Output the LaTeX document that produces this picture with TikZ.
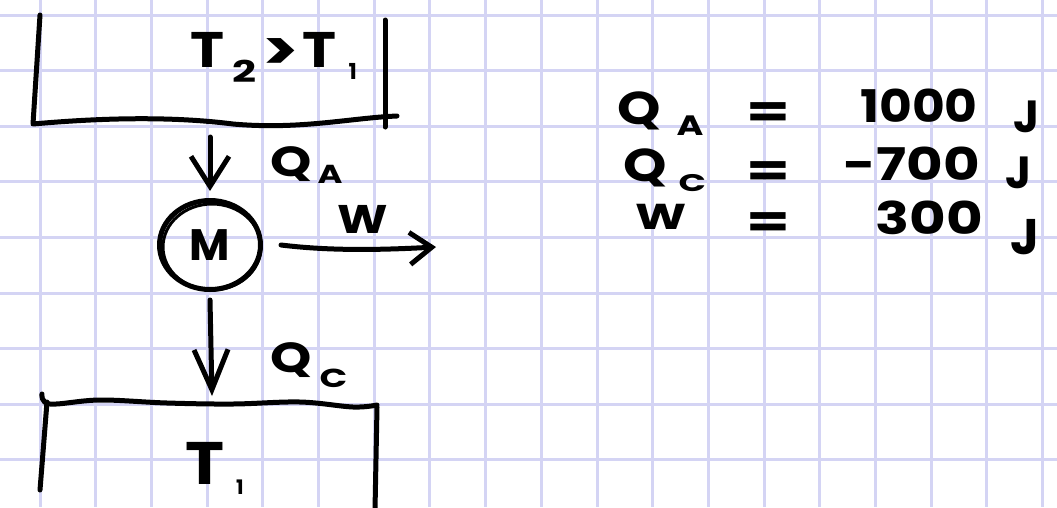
\documentclass[tikz,border=0pt]{standalone}
\usepackage{fontspec}
\setmainfont{Poppins}
\usetikzlibrary{arrows.meta,shapes.geometric}
\definecolor{gridc}{RGB}{212,212,244}
\newcommand\fsz[1]{\fontsize{#1}{#1}\selectfont}
\newcommand\xw[2]{\scalebox{#1}[1]{#2}}
\tikzset{
  ink/.style={draw=black, line width=5pt, line cap=round, line join=round},
  hw/.style={inner sep=0pt, anchor=base west},
  hwe/.style={inner sep=0pt, anchor=base east},
  eqs/.style={inner sep=0pt, font=\bfseries\fsz{45}},
  gridline/.style={draw=gridc, line width=3pt},
}
\begin{document}
\begin{tikzpicture}[x=1pt,y=-1pt]
\fill[white] (0,0) rectangle (1057,507);
\useasboundingbox (0,0) rectangle (1057,507);
% grid paper
\foreach \i in {0,...,18} \draw[gridline] ({40+55.7*\i},0) -- ({40+55.7*\i},507);
\foreach \j in {0,...,8} \draw[gridline] (0,{15+55.6*\j}) -- (1057,{15+55.6*\j});

% hot reservoir
\draw[ink] (40,15) -- (33,124) .. controls (100,118) and (170,116) .. (233,124) .. controls (300,130) and (350,118) .. (397,116);
\draw[ink] (385,20) -- (385,127);
\node[hw, font=\bfseries\fsz{50}] (hot) at (190,67) {\xw{1.15}{T}\hspace{8pt}\raisebox{-15pt}{\fsz{30}\xw{1.4}{2}}\hspace{6pt}\raisebox{-3pt}{\xw{1.2}{\fsz{56}>}}\hspace{4pt}\xw{1.15}{T}\hspace{12pt}\raisebox{-12pt}{\fsz{22}1}};
\coordinate (hotb) at (210,137);

% engine
\node[ellipse, ink, minimum width=101pt, minimum height=89pt, inner sep=0pt, font=\bfseries\fsz{44}] (eng) at (210,245) {M};
\draw[line width=3pt] ([shift={(2,2)}]eng.center) ellipse [x radius=49, y radius=43];

% heat in
\draw[ink, -{Straight Barb[length=30pt,width=38pt]}] (hotb) -- ([yshift=7pt]eng.north);
\node[hw, font=\bfseries\fsz{42}] (qa) at (270,176) {\xw{1.25}{Q}\hspace{6pt}\raisebox{-7pt}{\fsz{26}\xw{1.3}{A}}};

% work out
\coordinate (wend) at (436,247);
\draw[ink, -{Straight Barb[length=22pt,width=32pt]}] ([xshift=18pt]eng.east) .. controls (330,251) and (380,250) .. (wend);
\node[hw, font=\bfseries\fsz{40}] (wl) at (337,233) {\xw{1.2}{W}};

% cold reservoir
\coordinate (coldt) at (212,396);
\draw[ink, -{Straight Barb[length=40pt,width=34pt]}] ([yshift=-8pt]eng.south) -- (coldt);
\node[hw, font=\bfseries\fsz{42}] (qc) at (270,372) {\xw{1.25}{Q}\hspace{8pt}\raisebox{-15pt}{\fsz{26}\xw{1.4}{C}}};
\draw[ink] plot[smooth, tension=0.6] coordinates {(42,394) (50,404) (100,400) (167,403) (233,404) (300,402) (353,407) (377,405)};
\draw[ink] (47,402) -- (40,490);
\draw[ink] (377,407) -- (375,510);
\node[hw, font=\bfseries\fsz{60}] (cold) at (185,484) {\xw{1.1}{T}\hspace{12pt}\raisebox{-10pt}{\fsz{20}1}};

% values
\node[hw, font=\bfseries\fsz{46}] (r1a) at (617,124) {\xw{1.2}{Q}\hspace{16pt}\raisebox{-11pt}{\fsz{28}\xw{1.3}{A}}};
\node[eqs] (r1b) at (768,115) {\xw{1.4}{=}};
\node[hwe, font=\bfseries\fsz{45}] (r1c) at (978,122) {\xw{1.12}{1000}};
\node[hw, font=\bfseries\fsz{45}] (r1d) at (1013,132) {J};

\node[hw, font=\bfseries\fsz{46}] (r2a) at (623,181) {\xw{1.2}{Q}\hspace{12pt}\raisebox{-10pt}{\fsz{24}\xw{1.5}{C}}};
\node[eqs] (r2b) at (768,174) {\xw{1.4}{=}};
\node[hwe, font=\bfseries\fsz{45}] (r2c) at (980,180) {\xw{1.25}{-700}};
\node[hw, font=\bfseries\fsz{45}] (r2d) at (1005,188) {J};

\node[hw, font=\bfseries\fsz{36}] (r3a) at (635,229) {\xw{1.35}{W}};
\node[eqs] (r3b) at (768,225) {\xw{1.4}{=}};
\node[hwe, font=\bfseries\fsz{45}] (r3c) at (983,234) {\xw{1.25}{300}};
\node[hw, font=\bfseries\fsz{50}] (r3d) at (1010,254) {J};
\end{tikzpicture}
\end{document}
